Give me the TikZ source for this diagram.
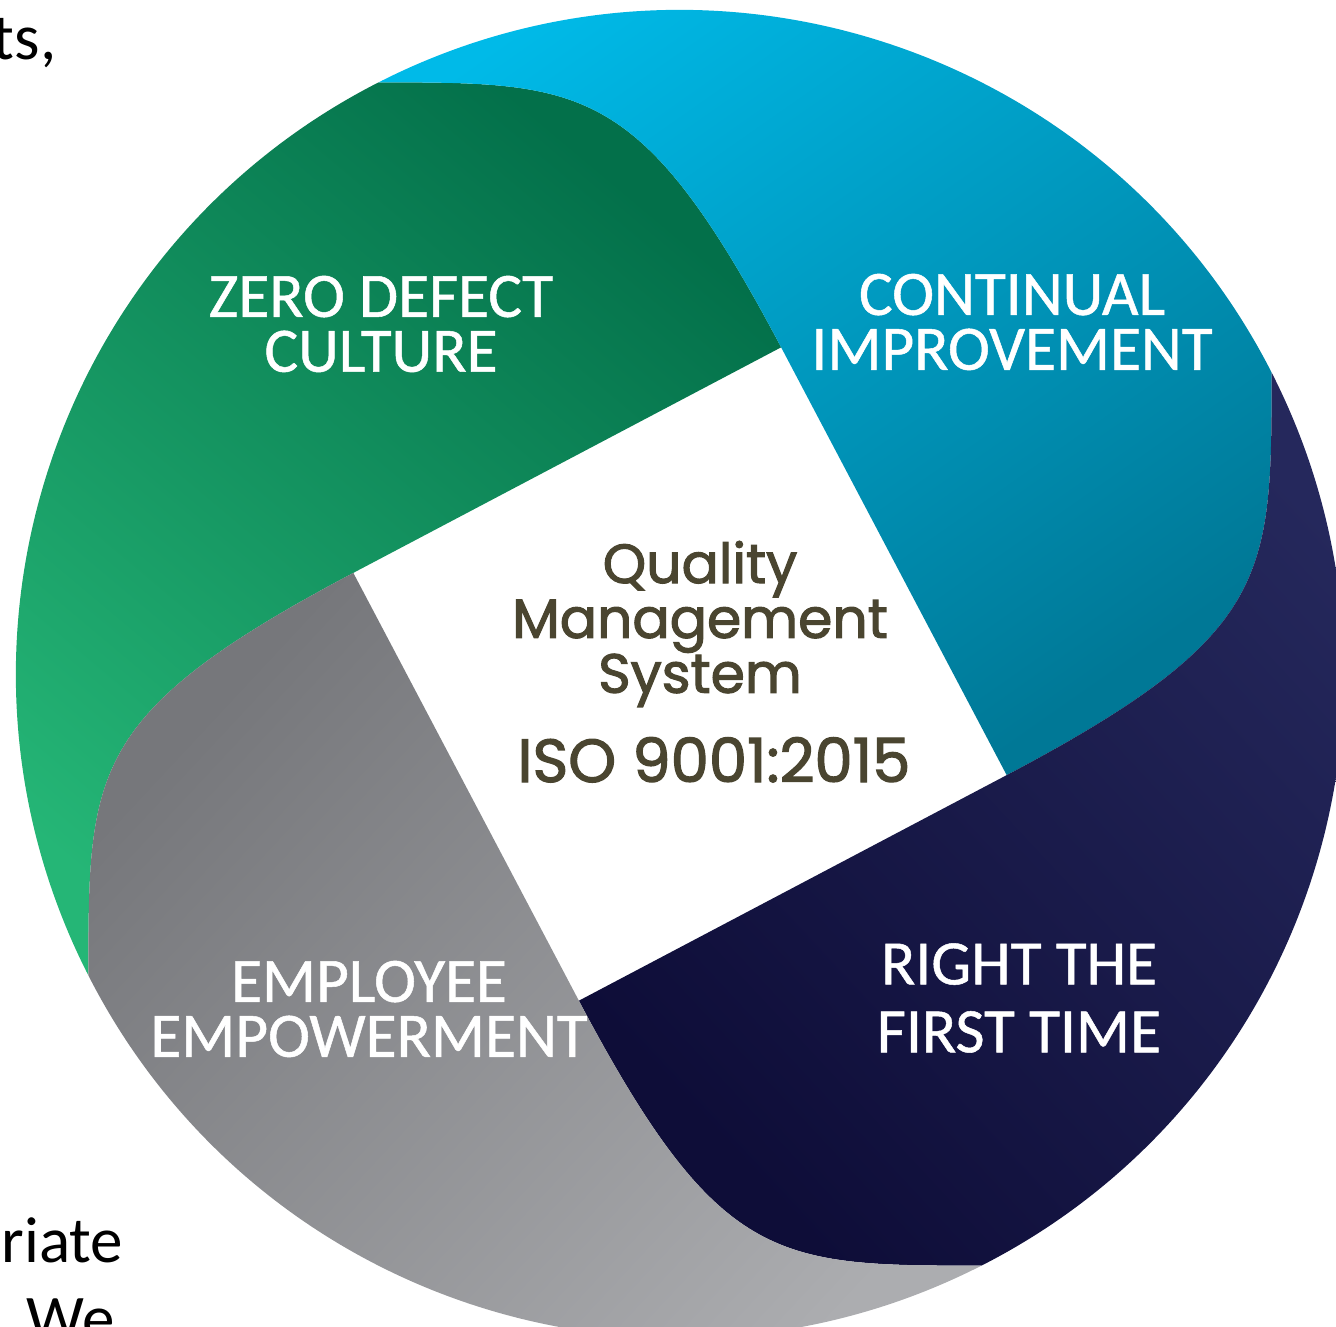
\documentclass[tikz,border=0pt]{standalone}
\usepackage{fontspec}
\setmainfont{Carlito}
\newfontfamily\lblfont{Carlito}[FakeBold=0.8]
\newfontfamily\qmsfont{Poppins}[FakeBold=2]
\usetikzlibrary{positioning}

\definecolor{zdcdark}{HTML}{03704A}
\definecolor{zdclight}{HTML}{25B676}
\definecolor{cilight}{HTML}{00BAE8}
\definecolor{cimid}{HTML}{00A6D2}
\definecolor{cidark}{HTML}{007896}
\definecolor{rftdark}{HTML}{0E0D38}
\definecolor{rftlight}{HTML}{25285C}
\definecolor{eedark}{HTML}{76777B}
\definecolor{eelight}{HTML}{ACADB0}
\definecolor{qmstext}{HTML}{4A4530}

% one quarter of the ring, turned by #1 degrees
\newcommand{\swoosh}[1]{({72.8+#1}:342) -- ({162.8+#1}:342)
  .. controls ({183.8+#1}:593.4) and ({189.3+#1}:599.4) .. ({207+#1}:664)
  arc[start angle={207+#1}, end angle={117+#1}, radius=664]
  .. controls ({99.3+#1}:599.4) and ({93.8+#1}:593.4) .. ({72.8+#1}:342) -- cycle}

\tikzset{
  lbl/.style={text=white, align=center, inner sep=0pt, font=\lblfont\fontsize{18}{15.6}\selectfont},
  qmslbl/.style={text=qmstext, align=center, inner sep=0pt, font=\qmsfont\fontsize{15.7}{15.6}\selectfont},
  pagetxt/.style={text=black, inner sep=0pt, font=\fontsize{18.5}{22}\selectfont}
}

\begin{document}
\begin{tikzpicture}[x=0.01cm, y=0.01cm]
  \useasboundingbox (0,0) rectangle (1336,1326);
  \clip (0,0) rectangle (1336,1326);
  \coordinate (o) at (680,652);

  \begin{scope}[shift={(o)}]
    \shade[top color=zdcdark, bottom color=zdclight, shading angle=-40] \swoosh{0};
    \shade[top color=cilight, middle color=cimid, bottom color=cidark, shading angle=35] \swoosh{-90};
    \shade[top color=rftlight, bottom color=rftdark, shading angle=-47] \swoosh{-180};
    \shade[top color=eedark, bottom color=eelight, shading angle=47] \swoosh{90};
  \end{scope}

  \node[lbl] (zdc) at (381,1002) {ZERO DEFECT\\CULTURE};
  \node[lbl] (ci) at (1012,1004) {CONTINUAL\\IMPROVEMENT};
  \node[lbl, font=\lblfont\fontsize{18}{19.3}\selectfont] (rft) at (1019,328) {RIGHT THE\\FIRST TIME};
  \node[lbl] (ee) at (369,317) {EMPLOYEE\\EMPOWERMENT};

  \node[qmslbl] (qms) at (700,702) {Quality\\Management\\System};
  \node[qmslbl, anchor=base, font=\qmsfont\fontsize{17.3}{18}\selectfont] (iso) at (714,544) {ISO 9001:2015};

  \node[pagetxt, anchor=base east] (ts) at (57,1266) {ts,};
  \node[pagetxt, anchor=base east] (riate) at (124,64) {riate};
  \node[pagetxt, anchor=base west] (we) at (26,-14) {We};
\end{tikzpicture}
\end{document}
